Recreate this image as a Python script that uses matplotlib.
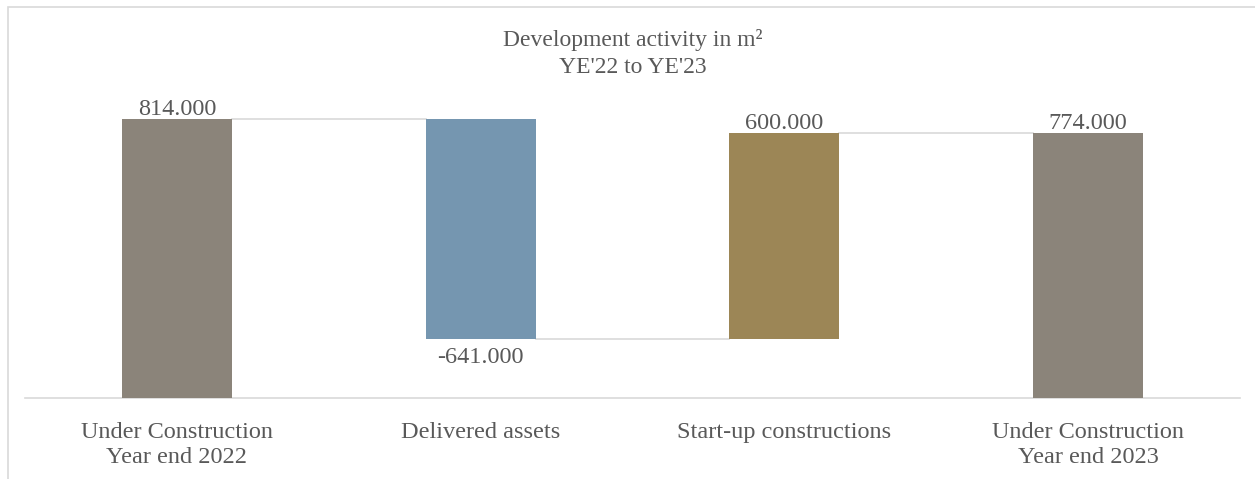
import matplotlib.pyplot as plt
from matplotlib.patches import Rectangle

# Waterfall data (m2)
categories = ["Under Construction\nYear end 2022", "Delivered assets",
              "Start-up constructions", "Under Construction\nYear end 2023"]
values = [814000, -641000, 600000, 774000]
is_total = [True, False, False, True]
colors = ["#8b847a", "#7596b0", "#9c8656", "#8b847a"]

text_col = "#595959"
line_col = "#d9d9d9"

plt.rcParams['font.family'] = ['Liberation Serif', 'DejaVu Serif']


def fmt(v):
    return f"{v:,.0f}".replace(",", ".")


# bottoms / tops for a waterfall
bottoms, tops, ends = [], [], []
running = 0
for v, tot in zip(values, is_total):
    start = 0 if tot else running
    running = v if tot else running + v
    bottoms.append(min(start, running))
    tops.append(max(start, running))
    ends.append(running)

fig = plt.figure(figsize=(12.55, 4.79), dpi=100)
ax = fig.add_axes([25 / 1255, 81 / 479, 1215 / 1255, 308.5 / 479])

x = list(range(len(values)))
w = 0.362
heights = [t - b for b, t in zip(bottoms, tops)]
ax.bar(x, heights, bottom=bottoms, width=w, color=colors, zorder=3)

# connector lines
for i in range(len(values) - 1):
    ax.plot([i + w / 2, i + 1 - w / 2], [ends[i], ends[i]],
            color=line_col, lw=1.2, zorder=2)

# value labels
for i, v in enumerate(values):
    if v >= 0:
        ax.text(i, tops[i] + 11700, fmt(v), ha="center", va="baseline",
                fontsize=17.5, color=text_col)
    else:
        ax.text(i, bottoms[i] - 70000, fmt(v), ha="center", va="baseline",
                fontsize=17.5, color=text_col)

ax.set_xlim(-0.5, 3.5)
ax.set_ylim(0, 900000)
ax.set_xticks(x)
ax.set_xticklabels(categories, fontsize=17.5, color=text_col, linespacing=1.28)
ax.tick_params(axis="x", length=0, pad=17)
ax.set_yticks([])
for s in ["top", "right", "left"]:
    ax.spines[s].set_visible(False)
ax.spines["bottom"].set_color(line_col)
ax.spines["bottom"].set_linewidth(1.2)

fig.text(633 / 1255, 1 - 29 / 479, "Development activity in m²\nYE'22 to YE'23",
         ha="center", va="top", fontsize=17, color=text_col, linespacing=1.38)

# outer frame
fig.patches.append(Rectangle((8 / 1255, -0.1), 1.2, 1 - 7 / 479 + 0.1,
                             transform=fig.transFigure, fill=False,
                             edgecolor="#d9d9d9", lw=1.2))

fig.savefig("out.png", dpi=100)
